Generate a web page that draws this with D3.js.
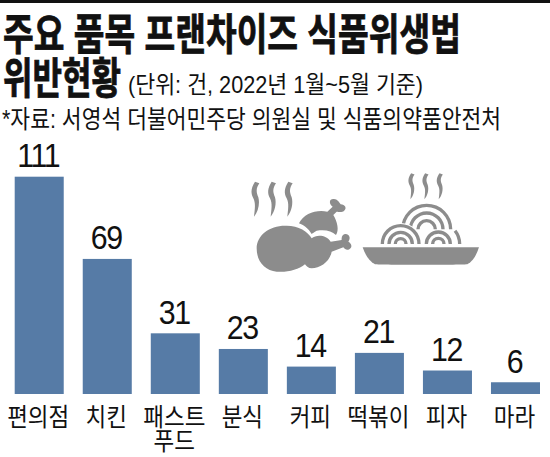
<!DOCTYPE html>
<html lang="ko">
<head>
<meta charset="utf-8">
<script src="https://cdn.jsdelivr.net/npm/d3@7/dist/d3.min.js"></script>
<style>
html,body{margin:0;padding:0;background:#fff}
svg{display:block}
</style>
</head>
<body>
<svg id="chart" width="550" height="457"></svg>
<script>
// Franchise food-hygiene violations by item
const categories = ["편의점", "치킨", "패스트푸드", "분식", "커피", "떡볶이", "피자", "마라"];
const categoryLines = [["편의점"], ["치킨"], ["패스트", "푸드"], ["분식"], ["커피"], ["떡볶이"], ["피자"], ["마라"]];
const values = [111, 69, 31, 23, 14, 21, 12, 6];

const FONT = '"Liberation Sans","Noto Sans CJK KR",sans-serif';
const INK = "#111";
const ICON = "#8c8c8c";
const svg = d3.select("#chart");

const x = d3.scaleBand().domain(categories).range([14.7, 540]).paddingInner(19 / 68).paddingOuter(0);
const y = d3.scaleLinear().domain([0, 111]).range([394, 176.7]);

// Top rule
svg.append("rect").attr("x", 0).attr("y", 0).attr("width", 550).attr("height", 3).attr("fill", INK);

// Headline type is squeezed to fixed widths
function fitted(str, px, base, size, width, weight) {
  return svg.append("text").attr("x", px).attr("y", base)
    .attr("font-family", FONT).attr("font-size", size).attr("font-weight", weight || 400)
    .attr("textLength", width).attr("lengthAdjust", "spacingAndGlyphs")
    .attr("fill", INK).text(str);
}
fitted("주요 품목 프랜차이즈 식품위생법", 3, 50, 43, 458, 700).attr("stroke", INK).attr("stroke-width", 0.8);
fitted("위반현황", 3, 93.5, 43, 118, 700).attr("stroke", INK).attr("stroke-width", 0.8);
fitted("(단위: 건, 2022년 1월~5월 기준)", 128, 92.5, 24, 295, 400);
fitted("*자료: 서영석 더불어민주당 의원실 및 식품의약품안전처", 2, 127.5, 25, 499, 400);

// Bars
svg.append("g").selectAll("rect").data(values).join("rect")
  .attr("x", (d, i) => x(categories[i]))
  .attr("y", d => y(d))
  .attr("width", x.bandwidth())
  .attr("height", d => y(0) - y(d))
  .attr("fill", "#567ba6");

// Value labels
svg.append("g").selectAll("text").data(values).join("text")
  .attr("transform", (d, i) => `translate(${x(categories[i]) + x.bandwidth() / 2 - 1},${y(d) - 9.5}) scale(0.92,1)`)
  .attr("text-anchor", "middle")
  .attr("letter-spacing", -1.5)
  .attr("font-family", FONT).attr("font-size", 33).attr("fill", INK)
  .text(d => d);

// Category labels, one or two lines under each bar
const labels = svg.append("g").selectAll("g").data(categoryLines).join("g")
  .attr("transform", (d, i) => `translate(${x(categories[i]) + x.bandwidth() / 2 - 1},0)`);
labels.selectAll("text").data(d => d).join("text")
  .attr("y", (d, i) => 426 + i * 24)
  .attr("transform", "scale(0.9,1)")
  .attr("text-anchor", "middle")
  .attr("font-family", FONT).attr("font-size", 25).attr("fill", INK)
  .text(d => d);

// Chicken icon, drawn in its own 3x grid
const chicken = svg.append("g").attr("transform", "translate(230,160) scale(0.3333)").attr("fill", ICON);
const wisp = "M75,65 C62,85 62,100 70,115 C78,130 74,150 72,170 C85,155 90,130 85,112 C78,95 78,85 88,70 Z";
[0, 50, 100].forEach(dx => chicken.append("path").attr("d", wisp).attr("transform", `translate(${dx},0)`));
chicken.append("path").attr("d", "M207,190 C222,160 260,148 292,155 L308,140 C295,130 298,115 312,117 C322,117 328,127 332,133 C345,133 352,145 342,153 C335,158 325,155 320,155 L310,165 C322,185 328,210 318,225 C305,212 285,208 260,212 C250,218 247,220 245,222 C235,205 220,195 207,190 Z");
chicken.append("path")
  .attr("d", "M80,265 C80,225 120,195 170,197 C205,197 235,215 245,235 C260,222 290,225 302,245 L335,240 C333,225 345,218 355,225 C362,232 358,240 355,245 C365,250 368,262 358,268 C350,272 345,268 340,262 L305,275 C300,305 270,325 245,325 C235,325 230,320 225,313 C205,330 170,338 140,335 C105,332 80,305 80,265 Z")
  .attr("stroke", "#fff").attr("stroke-width", 6).attr("paint-order", "stroke");

// Noodle plate icon, on the same kind of grid
const plate = svg.append("g").attr("transform", "translate(360,170) scale(0.3333)").attr("fill", ICON);
[0, 42, 85].forEach(dx => plate.append("path").attr("d", wisp)
  .attr("transform", `translate(${dx + 95},-38) scale(0.78,0.74)`));
const half = d3.arc().startAngle(-Math.PI / 2).endAngle(Math.PI / 2);
function rings(cx, cy, radii, halo, from, to) {
  const g = plate.append("g").attr("transform", `translate(${cx},${cy})`);
  if (halo) g.append("path").attr("fill", "#fff")
    .attr("d", half({ innerRadius: 0, outerRadius: halo }));
  radii.forEach(r => g.append("path").attr("d", d3.arc()({
    innerRadius: r - 5, outerRadius: r + 5,
    startAngle: from === undefined ? -Math.PI / 2 : from,
    endAngle: to === undefined ? Math.PI / 2 : to
  })));
}
rings(200, 178, [72, 49, 26], 0);
rings(235, 222, [64], 0, 0.9, Math.PI / 2);
rings(235, 222, [36, 17], 43);
rings(122, 222, [55, 35, 16], 63);
plate.append("path").attr("d", "M8,232 H357 C350,252 342,272 322,283 C318,285 60,285 45,283 C25,272 15,252 8,232 Z");
</script>
</body>
</html>
